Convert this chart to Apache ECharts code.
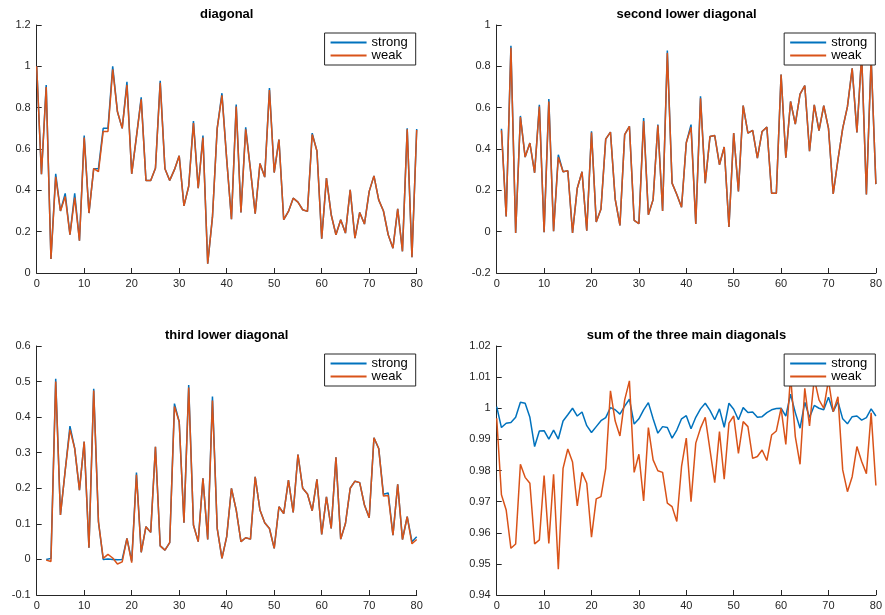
<!DOCTYPE html>
<html>
<head>
<meta charset="utf-8">
<script src="https://cdn.jsdelivr.net/npm/echarts@6/dist/echarts.min.js"></script>
<style>
  html, body { margin: 0; padding: 0; background: #fff; }
  #chart { width: 885px; height: 615px; }
</style>
</head>
<body>
<div id="chart"></div>
<script>
// Index 0..80 along each diagonal
const xTicks = [0, 10, 20, 30, 40, 50, 60, 70, 80];
const legendNames = ['strong', 'weak'];
const panelTitles = ['diagonal', 'second lower diagonal', 'third lower diagonal', 'sum of the three main diagonals'];

// Main diagonal
const diagStrong = [1.0, 0.478, 0.91, 0.068, 0.48, 0.30, 0.385, 0.185, 0.385, 0.156,
  0.665, 0.29, 0.505, 0.505, 0.70, 0.70, 1.0, 0.78, 0.70, 0.925,
  0.48, 0.66, 0.85, 0.448, 0.448, 0.507, 0.93, 0.504, 0.448, 0.50,
  0.567, 0.325, 0.42, 0.735, 0.41, 0.665, 0.045, 0.27, 0.70, 0.87,
  0.55, 0.26, 0.815, 0.293, 0.705, 0.50, 0.287, 0.53, 0.464, 0.895,
  0.486, 0.646, 0.258, 0.298, 0.362, 0.343, 0.306, 0.298, 0.677, 0.59,
  0.166, 0.459, 0.282, 0.185, 0.258, 0.193, 0.403, 0.169, 0.293, 0.237,
  0.395, 0.47, 0.354, 0.30, 0.185, 0.12, 0.31, 0.105, 0.70, 0.076, 0.697];
const diagWeak = [1.0, 0.478, 0.90, 0.068, 0.465, 0.30, 0.37, 0.185, 0.365, 0.156,
  0.655, 0.29, 0.505, 0.49, 0.685, 0.685, 0.985, 0.78, 0.70, 0.91,
  0.48, 0.66, 0.84, 0.448, 0.448, 0.507, 0.92, 0.504, 0.448, 0.50,
  0.567, 0.325, 0.42, 0.725, 0.41, 0.655, 0.045, 0.27, 0.70, 0.86,
  0.55, 0.26, 0.805, 0.293, 0.695, 0.50, 0.287, 0.53, 0.464, 0.885,
  0.486, 0.646, 0.258, 0.298, 0.362, 0.343, 0.306, 0.298, 0.67, 0.59,
  0.166, 0.459, 0.282, 0.185, 0.258, 0.193, 0.403, 0.169, 0.293, 0.237,
  0.395, 0.47, 0.354, 0.30, 0.185, 0.12, 0.31, 0.105, 0.695, 0.076, 0.692];

// Second lower diagonal (starts at index 1)
const sub2Strong = [null, 0.498, 0.074, 0.90, -0.006, 0.56, 0.361, 0.429, 0.285, 0.614,
  -0.003, 0.642, 0.002, 0.372, 0.29, 0.295, -0.006, 0.21, 0.29, 0.005,
  0.486, 0.047, 0.11, 0.448, 0.482, 0.158, 0.03, 0.47, 0.51, 0.055,
  0.039, 0.55, 0.082, 0.155, 0.518, 0.10, 0.876, 0.235, 0.18, 0.118,
  0.43, 0.518, 0.037, 0.655, 0.235, 0.46, 0.465, 0.324, 0.41, 0.023,
  0.477, 0.195, 0.61, 0.477, 0.49, 0.356, 0.485, 0.506, 0.186, 0.186,
  0.76, 0.358, 0.63, 0.52, 0.665, 0.707, 0.389, 0.614, 0.489, 0.61,
  0.50, 0.183, 0.348, 0.50, 0.605, 0.79, 0.48, 0.86, 0.18, 0.84, 0.23];
const sub2Weak = [null, 0.49, 0.074, 0.89, -0.006, 0.555, 0.361, 0.429, 0.285, 0.605,
  -0.003, 0.63, 0.002, 0.36, 0.29, 0.295, -0.006, 0.21, 0.29, 0.005,
  0.48, 0.047, 0.11, 0.448, 0.482, 0.158, 0.03, 0.47, 0.51, 0.055,
  0.039, 0.535, 0.082, 0.155, 0.515, 0.10, 0.865, 0.235, 0.18, 0.118,
  0.43, 0.505, 0.037, 0.645, 0.235, 0.46, 0.465, 0.324, 0.41, 0.023,
  0.477, 0.195, 0.61, 0.477, 0.49, 0.356, 0.485, 0.506, 0.186, 0.186,
  0.76, 0.358, 0.63, 0.52, 0.665, 0.707, 0.389, 0.614, 0.489, 0.61,
  0.50, 0.183, 0.348, 0.50, 0.605, 0.79, 0.48, 0.855, 0.18, 0.84, 0.23];

// Third lower diagonal (starts at index 2)
const sub3Strong = [null, null, 0.0, 0.003, 0.508, 0.125, 0.25, 0.375, 0.312, 0.195,
  0.331, 0.033, 0.48, 0.106, 0.0, 0.001, 0.0, -0.001, 0.0, 0.059,
  -0.005, 0.244, 0.02, 0.092, 0.076, 0.317, 0.038, 0.026, 0.047, 0.438,
  0.387, 0.103, 0.49, 0.097, 0.05, 0.228, 0.056, 0.458, 0.087, 0.003,
  0.064, 0.2, 0.139, 0.05, 0.061, 0.057, 0.232, 0.139, 0.103, 0.087,
  0.031, 0.148, 0.129, 0.223, 0.132, 0.295, 0.2, 0.184, 0.137, 0.225,
  0.07, 0.176, 0.087, 0.287, 0.057, 0.101, 0.2, 0.22, 0.216, 0.153,
  0.117, 0.342, 0.312, 0.183, 0.187, 0.068, 0.211, 0.056, 0.12, 0.05, 0.064];
const sub3Weak = [null, null, -0.002, -0.006, 0.50, 0.125, 0.25, 0.365, 0.312, 0.195,
  0.331, 0.033, 0.475, 0.106, 0.003, 0.014, 0.004, -0.013, -0.007, 0.059,
  -0.009, 0.238, 0.02, 0.092, 0.076, 0.317, 0.038, 0.026, 0.047, 0.43,
  0.387, 0.103, 0.483, 0.097, 0.05, 0.228, 0.056, 0.447, 0.087, 0.003,
  0.064, 0.2, 0.139, 0.05, 0.061, 0.057, 0.232, 0.139, 0.103, 0.087,
  0.031, 0.148, 0.129, 0.223, 0.132, 0.295, 0.2, 0.184, 0.137, 0.225,
  0.07, 0.176, 0.087, 0.287, 0.057, 0.101, 0.2, 0.22, 0.216, 0.153,
  0.117, 0.342, 0.312, 0.178, 0.18, 0.068, 0.211, 0.056, 0.12, 0.044, 0.056];

// Sum of the three main diagonals
const sumStrong = [1.0005, 0.9938, 0.9952, 0.9954, 0.9971, 1.0019, 1.0016, 0.9971, 0.9877, 0.9927,
  0.9928, 0.9901, 0.9930, 0.9901, 0.9959, 0.9979, 1.0000, 0.9975, 0.9988, 0.9944,
  0.9922, 0.9941, 0.9960, 0.9970, 1.0002, 0.9995, 0.9981, 1.0007, 1.0029, 0.9949,
  0.9966, 0.9995, 1.0018, 0.9966, 0.9920, 0.9941, 0.9938, 0.9904, 0.9930, 0.9966,
  0.9976, 0.9934, 0.9971, 0.9998, 1.0016, 0.9993, 0.9963, 0.9998, 0.9939, 1.0016,
  0.9997, 0.9963, 1.0002, 0.9986, 0.9988, 0.9971, 0.9973, 0.9986, 0.9995, 0.9999,
  1.0000, 0.9975, 1.0045, 0.9986, 0.9936, 1.0019, 0.9970, 1.0009, 1.0000, 0.9995,
  1.0035, 0.9989, 1.0021, 0.9966, 0.9950, 0.9973, 0.9975, 0.9962, 0.9970, 0.9998, 0.9975];
const sumWeak = [0.9968, 0.9722, 0.9673, 0.9550, 0.9564, 0.9820, 0.9778, 0.9759, 0.9564, 0.9577,
  0.9784, 0.9566, 0.9788, 0.9483, 0.9807, 0.9869, 0.9827, 0.9686, 0.9794, 0.9759,
  0.9586, 0.9709, 0.9716, 0.9807, 1.0056, 0.9959, 0.9911, 1.0027, 1.0088, 0.9794,
  0.9852, 0.9702, 0.9938, 0.9834, 0.9799, 0.9794, 0.9695, 0.9684, 0.9636, 0.9813,
  0.9904, 0.9700, 0.9888, 0.9936, 0.9971, 0.9866, 0.9761, 0.9925, 0.9772, 0.9952,
  0.9975, 0.9855, 0.9957, 0.9941, 0.9839, 0.9845, 0.9866, 0.9832, 0.9914, 0.9927,
  1.0000, 0.9884, 1.0105, 0.9909, 0.9820, 1.0064, 0.9943, 1.0095, 1.0027, 1.0000,
  1.0090, 0.9989, 1.0037, 0.9802, 0.9732, 0.9780, 0.9877, 0.9829, 0.9790, 0.9985, 0.9752];

// y-axis ranges per panel
const yRanges = [
  { min: 0, max: 1.2, interval: 0.2 },
  { min: -0.2, max: 1, interval: 0.2 },
  { min: -0.1, max: 0.6, interval: 0.1 },
  { min: 0.94, max: 1.02, interval: 0.01 }
];

const panels = [
  [diagStrong, diagWeak],
  [sub2Strong, sub2Weak],
  [sub3Strong, sub3Weak],
  [sumStrong, sumWeak]
];

const BLUE = '#0072BD';
const ORANGE = '#D95319';
const AXIS = '#262626';
const FONT = '"Liberation Sans", Arial, Helvetica, sans-serif';

const boxes = [
  { left: 36.7, top: 25, width: 380, height: 248 },
  { left: 496.7, top: 25, width: 379.6, height: 248 },
  { left: 36.7, top: 346, width: 380, height: 249 },
  { left: 496.7, top: 346, width: 379.6, height: 249 }
];

const toPairs = arr => arr.map((v, i) => [i, v]).filter(p => p[1] !== null);
const fmt = v => String(Number(v.toFixed(3)));

const option = {
  animation: false,
  backgroundColor: '#fff',
  textStyle: { fontFamily: FONT },
  title: boxes.map((b, k) => ({
    text: panelTitles[k],
    left: b.left + b.width / 2,
    textAlign: 'center',
    top: b.top - 17,
    padding: 0,
    textStyle: { fontFamily: FONT, fontSize: 13, fontWeight: 'bold', color: '#000' }
  })),
  legend: boxes.map((b, k) => ({
    data: legendNames,
    orient: 'vertical',
    right: 885 - (b.left + b.width) + 1,
    top: b.top + 8,
    padding: [3, 8, 3, 6],
    itemGap: 0,
    itemWidth: 36,
    itemHeight: 2,
    icon: 'rect',
    backgroundColor: '#fff',
    borderColor: AXIS,
    borderWidth: 1,
    borderRadius: 0,
    selectedMode: false,
    textStyle: { fontFamily: FONT, fontSize: 13, lineHeight: 13, color: '#000' }
  })),
  grid: boxes.map(b => ({ left: b.left, top: b.top, width: b.width, height: b.height })),
  xAxis: boxes.map((b, k) => ({
    type: 'value',
    gridIndex: k,
    min: xTicks[0],
    max: xTicks[xTicks.length - 1],
    interval: 10,
    axisLine: { show: true, onZero: false, lineStyle: { color: AXIS, width: 1 } },
    axisTick: { show: true, inside: true, length: 5, lineStyle: { color: AXIS } },
    axisLabel: { color: AXIS, fontSize: 11, fontFamily: FONT, margin: 5 },
    splitLine: { show: false }
  })),
  yAxis: boxes.map((b, k) => ({
    type: 'value',
    gridIndex: k,
    min: yRanges[k].min,
    max: yRanges[k].max,
    interval: yRanges[k].interval,
    axisLine: { show: true, onZero: false, lineStyle: { color: AXIS, width: 1 } },
    axisTick: { show: true, inside: true, length: 5, lineStyle: { color: AXIS } },
    axisLabel: { color: AXIS, fontSize: 11, fontFamily: FONT, margin: 6, formatter: fmt },
    splitLine: { show: false }
  })),
  series: []
};

panels.forEach((pair, k) => {
  option.series.push({
    name: 'strong', type: 'line', xAxisIndex: k, yAxisIndex: k,
    data: toPairs(pair[0]), showSymbol: false, symbol: 'none',
    lineStyle: { color: BLUE, width: 1.5 }, itemStyle: { color: BLUE }, z: 2
  });
  option.series.push({
    name: 'weak', type: 'line', xAxisIndex: k, yAxisIndex: k,
    data: toPairs(pair[1]), showSymbol: false, symbol: 'none',
    lineStyle: { color: ORANGE, width: 1.5 }, itemStyle: { color: ORANGE }, z: 3
  });
});

const chart = echarts.init(document.getElementById('chart'), null, { renderer: 'canvas' });
chart.setOption(option);
</script>
</body>
</html>
